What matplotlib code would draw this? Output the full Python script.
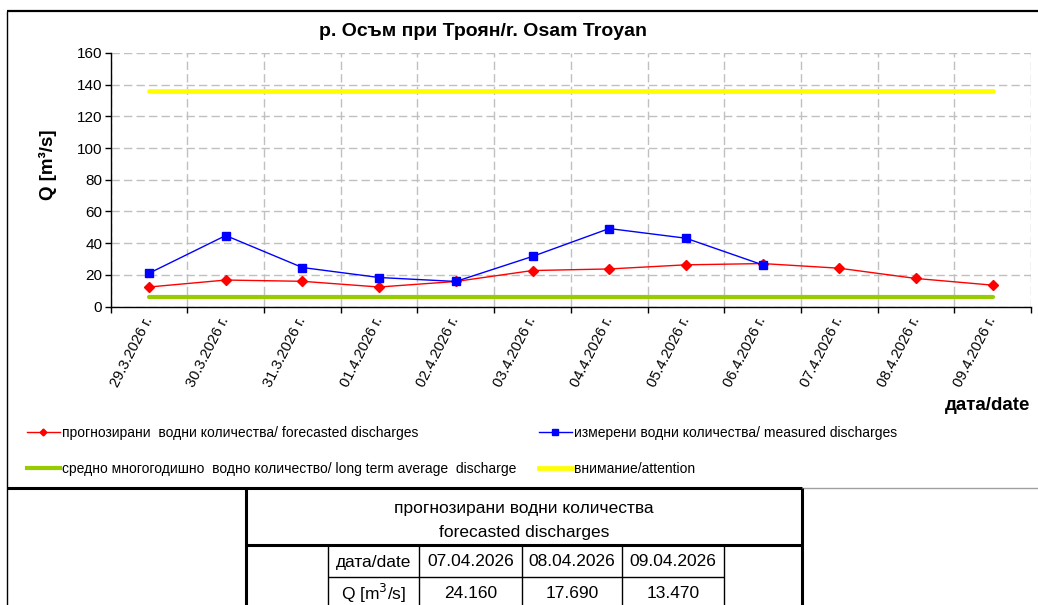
import numpy as np
import matplotlib
matplotlib.use('Agg')
import matplotlib.pyplot as plt
from matplotlib.lines import Line2D

plt.rcParams['font.family'] = ['Liberation Sans', 'DejaVu Sans']

W = 1038
H = 605

# chart data
dates = ['29.3.2026 г.', '30.3.2026 г.', '31.3.2026 г.', '01.4.2026 г.',
         '02.4.2026 г.', '03.4.2026 г.', '04.4.2026 г.', '05.4.2026 г.',
         '06.4.2026 г.', '07.4.2026 г.', '08.4.2026 г.', '09.4.2026 г.']
forecast = [12.3, 16.7, 15.9, 12.3, 15.8, 22.7, 23.7, 26.3, 27.1, 24.16, 17.69, 13.47]
measured = [21.0, 44.8, 24.6, 18.3, 15.8, 31.6, 49.2, 43.1, 26.3, np.nan, np.nan, np.nan]
long_term_avg = [6.0] * 12
attention = [136.0] * 12

# table data
table_dates = ['07.04.2026', '08.04.2026', '09.04.2026']
table_q = [24.160, 17.690, 13.470]


def fx(p):
    return p / W


def fy(p):
    return 1 - p / H


fig = plt.figure(figsize=(W / 100, H / 100), dpi=100)
ax = fig.add_axes([fx(110.7), fy(306.5), (1031 - 110.7) / W, (306.5 - 53) / H])

x = np.arange(len(dates)) + 0.5
ax.plot(x, long_term_avg, color='#99CC00', lw=3.0, solid_capstyle='round', zorder=2)
ax.plot(x, attention, color='#FFFF00', lw=3.4, solid_capstyle='round', zorder=2)
ax.plot(x, forecast, color='#FF0000', lw=1.0, marker='D', ms=4.6, zorder=3)
ax.plot(x, measured, color='#0000FF', lw=1.0, marker='s', ms=6, zorder=4)

ax.set_xlim(0, len(dates))
ax.set_ylim(0, 160)
ax.set_yticks(np.arange(0, 161, 20))
ax.set_xticks(np.arange(0, len(dates) + 1))
ax.set_xticklabels([])
ax.set_xticks(x, dates, minor=True)
ax.tick_params(axis='x', which='minor', length=0, pad=8, labelsize=10.5)
ax.tick_params(axis='x', which='major', length=4, width=1, direction='out')
ax.tick_params(axis='y', length=4, width=1, labelsize=11, pad=2)
for lbl in ax.get_xticklabels(minor=True):
    lbl.set_rotation(63)
    lbl.set_ha('right')
    lbl.set_va('center')
    lbl.set_rotation_mode('anchor')

ax.grid(True, which='major', color='#c0c0c0', linestyle=(0, (6, 3)), lw=1.0)
ax.set_axisbelow(True)
for s in ['top', 'right']:
    ax.spines[s].set_visible(False)
ax.spines['left'].set_linewidth(1.0)
ax.spines['bottom'].set_linewidth(1.0)

fig.text(fx(483), fy(32), 'р. Осъм при Троян/r. Osam Troyan', fontsize=14,
         fontweight='bold', ha='center', va='center')
fig.text(fx(48), fy(165), 'Q [m³/s]', fontsize=13.5, fontweight='bold',
         rotation=90, ha='center', va='center')
fig.text(fx(1030), fy(405), 'дата/date', fontsize=13.5, fontweight='bold',
         ha='right', va='center')

# legend, two columns
h_fc = Line2D([], [], color='#FF0000', lw=1.0, marker='D', ms=3.5)
h_avg = Line2D([], [], color='#99CC00', lw=3.0)
h_ms = Line2D([], [], color='#0000FF', lw=1.0, marker='s', ms=4)
h_att = Line2D([], [], color='#FFFF00', lw=3.4)
leg_kw = dict(loc='upper left', frameon=False, fontsize=10, handlelength=2.35,
              handletextpad=0.2, borderpad=0, borderaxespad=0, labelspacing=1.6)
fig.legend([h_fc, h_avg],
           ['прогнозирани  водни количества/ forecasted discharges',
            'средно многогодишно  водно количество/ long term average  discharge'],
           bbox_to_anchor=(fx(27), fy(426)), **leg_kw)
fig.legend([h_ms, h_att],
           ['измерени водни количества/ measured discharges', 'внимание/attention'],
           bbox_to_anchor=(fx(539), fy(426)), **leg_kw)


def hline(y, x0, x1, lw, color='black'):
    fig.add_artist(Line2D([fx(x0), fx(x1)], [fy(y), fy(y)], lw=lw, color=color,
                          solid_capstyle='butt'))


def vline(xp, y0, y1, lw, color='black'):
    fig.add_artist(Line2D([fx(xp), fx(xp)], [fy(y0), fy(y1)], lw=lw, color=color,
                          solid_capstyle='butt'))


# chart frame
hline(11, 7, W, 1.6)
vline(7, 11, H, 1.0)
hline(488, 7, 802, 2.2)
hline(488, 802, W, 1.0, '#a0a0a0')

# table
vline(245.7, 488, H, 2.2)
vline(802, 488, H, 2.2)
hline(545, 245.7, 802, 2.2)
cols = [327.7, 419, 522, 621.7, 724]
for c in cols:
    vline(c, 545, H, 1.0)
hline(576.5, 327.7, 724, 1.0)

tkw = dict(fontsize=12.5, ha='center', va='center')
fig.text(fx(524), fy(508), 'прогнозирани водни количества', **tkw)
fig.text(fx(524), fy(533), 'forecasted discharges', **tkw)
fig.text(fx((cols[0] + cols[1]) / 2), fy(562), 'дата/date', **tkw)
fig.text(fx((cols[0] + cols[1]) / 2), fy(593), 'Q [m$^3$/s]', **tkw)
for i in range(len(table_dates)):
    cx = (cols[i + 1] + cols[i + 2]) / 2
    fig.text(fx(cx), fy(562), table_dates[i], **tkw)
    fig.text(fx(cx), fy(593), '%.3f' % table_q[i], **tkw)

fig.savefig('out.png', dpi=100)
